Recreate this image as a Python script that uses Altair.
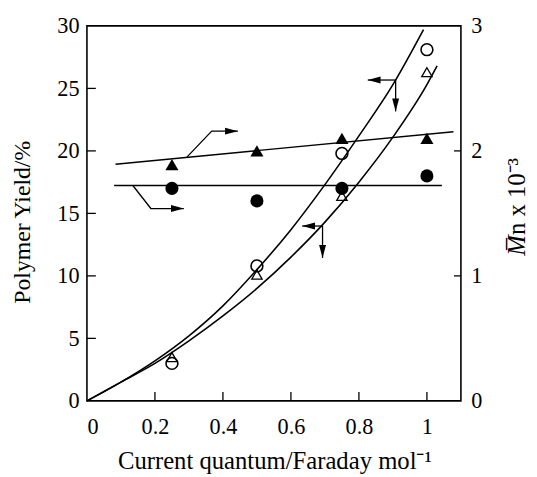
import altair as alt
import pandas as pd

# ---------------- data ----------------
q = [0.25, 0.5, 0.75, 1.0]
yield_open_circle = [3.0, 10.8, 19.8, 28.1]
yield_open_tri = [3.5, 10.1, 16.4, 26.3]
mn_filled_tri = [1.89, 2.0, 2.1, 2.1]
mn_filled_circle = [1.7, 1.6, 1.7, 1.8]

curve_up_x = [0, 0.1, 0.2, 0.3, 0.4, 0.5, 0.6, 0.7, 0.8, 0.9, 0.99]
curve_up_y = [0, 1.5, 3.2, 5.2, 7.6, 10.5, 13.7, 17.3, 21.2, 25.3, 29.7]
curve_lo_x = [0, 0.1, 0.2, 0.3, 0.4, 0.5, 0.6, 0.7, 0.8, 0.9, 1.0, 1.03]
curve_lo_y = [0, 1.5, 3.0, 4.8, 6.8, 9.0, 11.5, 14.3, 17.5, 21.1, 25.3, 26.8]

mn_tri_line_x = [0.084, 1.078]
mn_tri_line_y = [1.894, 2.153]
mn_circ_line_x = [0.08, 1.044]
mn_circ_line_y = [1.723, 1.723]

# annotation arrows (left-axis units)
arrow_id = [1, 1, 1, 2, 2, 2, 3, 3, 4, 4, 5, 5, 6, 6]
arrow_x = [0.294, 0.367, 0.444, 0.135, 0.188, 0.285, 0.908, 0.826, 0.908, 0.908, 0.693, 0.633, 0.693, 0.693]
arrow_y = [19.5, 21.58, 21.58, 17.23, 15.39, 15.39, 25.67, 25.67, 25.67, 23.16, 13.99, 13.99, 13.99, 11.44]
head_x = [0.444, 0.285, 0.826, 0.908, 0.633, 0.693]
head_y = [21.58, 15.39, 25.67, 23.16, 13.99, 11.44]
head_angle = [0, 0, 180, 90, 180, 90]

x_ticks = [0, 0.2, 0.4, 0.6, 0.8, 1.0]
yl_ticks = [0, 5, 10, 15, 20, 25, 30]
yr_ticks = [0, 1, 2, 3]

x_title = "Current quantum/Faraday mol\u207b\u00b9"
yl_title = "Polymer Yield/%"
yr_title_a = "M\u0305"
yr_title_b = "n x 10\u207b\u00b3"

# ---------------- layout ----------------
W, H = 379, 380
TOTAL_W, TOTAL_H = 528, 469
FONT = "Liberation Serif"
LABEL_FS = 22.5
TITLE_FS = 25

xs = alt.Scale(domain=[0, 1.1], nice=False, zero=False)
yls = alt.Scale(domain=[0, 30], nice=False)
yrs = alt.Scale(domain=[0, 3], nice=False)

x_axis = alt.Axis(values=x_ticks, format="~g", title=None, labelPadding=15, orient="bottom")
yl_axis = alt.Axis(values=yl_ticks, format="d", title=None, labelPadding=8, orient="left")
yr_axis = alt.Axis(values=yr_ticks, format="d", title=None, labelPadding=10, orient="right")

pts = pd.DataFrame({"q": q, "yc": yield_open_circle, "yt": yield_open_tri,
                    "mt": mn_filled_tri, "mc": mn_filled_circle})
up = pd.DataFrame({"x": curve_up_x, "y": curve_up_y})
lo = pd.DataFrame({"x": curve_lo_x, "y": curve_lo_y})
arr = pd.DataFrame({"id": arrow_id, "o": list(range(len(arrow_id))), "x": arrow_x, "y": arrow_y})
heads = pd.DataFrame({"x": head_x, "y": head_y, "a": head_angle})


def X(f):
    return alt.X(f, scale=xs, axis=x_axis)


def YL(f, axis=None):
    return alt.Y(f, scale=yls, axis=axis)


def YR(f, axis=None):
    return alt.Y(f, scale=yrs, axis=axis)


curve_up = alt.Chart(up).mark_line(color="black", strokeWidth=1.6, interpolate="monotone").encode(
    x=X("x:Q"), y=YL("y:Q", yl_axis))
curve_lo = alt.Chart(lo).mark_line(color="black", strokeWidth=1.6, interpolate="monotone").encode(
    x=X("x:Q"), y=YL("y:Q"))
open_c = alt.Chart(pts).mark_point(shape="circle", filled=False, color="black", size=144,
                                   strokeWidth=1.6, opacity=1).encode(x=X("q:Q"), y=YL("yc:Q"))
open_t = alt.Chart(pts).mark_point(shape="triangle-up", filled=False, color="black", size=110,
                                   strokeWidth=1.3, opacity=1).encode(x=X("q:Q"), y=YL("yt:Q"))
arrows = alt.Chart(arr).mark_line(color="black", strokeWidth=1.3).encode(
    x=X("x:Q"), y=YL("y:Q"), detail="id:N", order="o:Q")
arrowheads = alt.Chart(heads).mark_point(shape="M-1,-0.27L0,0L-1,0.27Z", filled=True, color="black",
                                         size=676, opacity=1, strokeWidth=0).encode(
    x=X("x:Q"), y=YL("y:Q"), angle=alt.Angle("a:Q", scale=None))
lt = alt.Chart(pd.DataFrame({"v": yl_ticks[1:-1]})).mark_rule(color="black", strokeWidth=1.3).encode(
    y=YL("v:Q"), x=alt.value(0), x2=alt.value(9))
bt = alt.Chart(pd.DataFrame({"v": x_ticks[1:]})).mark_rule(color="black", strokeWidth=1.3).encode(
    x=X("v:Q"), y=alt.value(H), y2=alt.value(H - 9))
xt = alt.Chart(pd.DataFrame({"t": [x_title]})).mark_text(
    font=FONT, fontSize=TITLE_FS, color="black", align="center", baseline="alphabetic").encode(
    text="t:N", x=alt.value(W / 2 + 1), y=alt.value(449))
ylt = alt.Chart(pd.DataFrame({"t": [yl_title]})).mark_text(
    font=FONT, fontSize=24, color="black", align="center", baseline="alphabetic", angle=270).encode(
    text="t:N", x=alt.value(-58), y=alt.value(199))

tri_line = alt.Chart(pd.DataFrame({"x": mn_tri_line_x, "y": mn_tri_line_y})).mark_line(
    color="black", strokeWidth=1.5).encode(x=X("x:Q"), y=YR("y:Q", yr_axis))
circ_line = alt.Chart(pd.DataFrame({"x": mn_circ_line_x, "y": mn_circ_line_y})).mark_line(
    color="black", strokeWidth=1.5).encode(x=X("x:Q"), y=YR("y:Q"))
fill_t = alt.Chart(pts).mark_point(shape="triangle-up", filled=True, color="black", size=175,
                                   opacity=1).encode(x=X("q:Q"), y=YR("mt:Q"))
fill_c = alt.Chart(pts).mark_point(shape="circle", filled=True, color="black", size=175,
                                   opacity=1).encode(x=X("q:Q"), y=YR("mc:Q"))
rt = alt.Chart(pd.DataFrame({"v": yr_ticks[1:-1]})).mark_rule(color="black", strokeWidth=1.3).encode(
    y=YR("v:Q"), x=alt.value(W), x2=alt.value(W - 7))
yrt_a = alt.Chart(pd.DataFrame({"t": [yr_title_a]})).mark_text(
    font=FONT, fontSize=TITLE_FS, fontStyle="italic", color="black", align="right",
    baseline="alphabetic", angle=270).encode(
    text="t:N", x=alt.value(W + 65), y=alt.value(212))
yrt_b = alt.Chart(pd.DataFrame({"t": [yr_title_b]})).mark_text(
    font=FONT, fontSize=TITLE_FS, color="black", align="left",
    baseline="alphabetic", angle=270).encode(
    text="t:N", x=alt.value(W + 65), y=alt.value(212))

chart = alt.layer(
    curve_up, tri_line, curve_lo, arrows, arrowheads, open_c, open_t, lt, bt, xt, ylt,
    circ_line, fill_t, fill_c, rt, yrt_a, yrt_b,
).resolve_scale(y="independent").resolve_axis(y="independent").properties(
    width=W, height=H,
    autosize=alt.AutoSizeParams(type="none"),
    padding={"left": 80, "top": 15, "right": TOTAL_W - 80 - W, "bottom": TOTAL_H - 15 - H},
    background="white",
).configure_view(
    stroke="black", strokeWidth=1.6
).configure_axis(
    domain=False, ticks=False, grid=False, labelFont=FONT, labelFontSize=LABEL_FS,
    labelColor="black",
)

chart.save("out.html", embed_options={"renderer": "svg", "actions": False})
